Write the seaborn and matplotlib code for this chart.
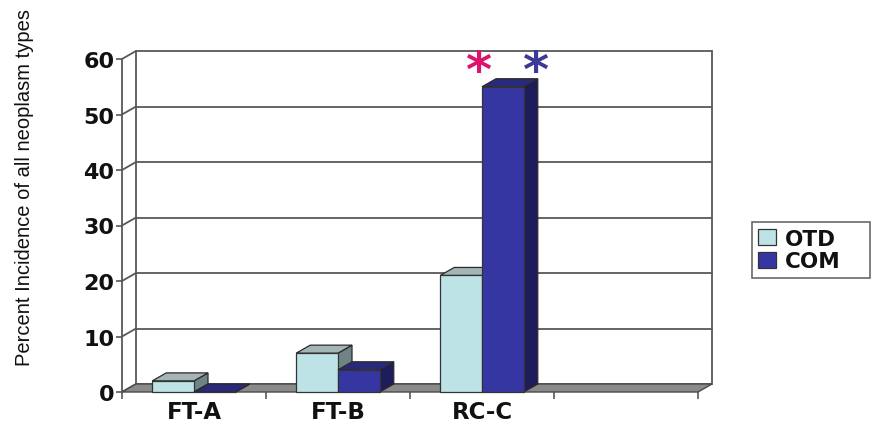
import matplotlib
matplotlib.use("Agg")
import matplotlib.pyplot as plt
from matplotlib.patches import Polygon, Patch
import pandas as pd
import seaborn as sns

# ---- data ----
categories = ["FT-A", "FT-B", "RC-C"]
groups = ["OTD", "COM"]
otd_values = [2, 7, 21]
com_values = [0, 4, 55]
y_ticks = [0, 10, 20, 30, 40, 50, 60]
y_label = "Percent Incidence of all neoplasm types"

front_colors = {"OTD": "#bde3e6", "COM": "#3636a2"}
top_colors = {"OTD": "#a3b5b5", "COM": "#2a2a7c"}
side_colors = {"OTD": "#6f8484", "COM": "#1d1d5c"}

df = pd.DataFrame({
    "category": categories * 2,
    "group": ["OTD"] * len(categories) + ["COM"] * len(categories),
    "value": otd_values + com_values,
})

sns.set_theme(style="white")
plt.rcParams["font.family"] = ["DejaVu Sans"]

W, H = 874, 431
fig = plt.figure(figsize=(W / 100, H / 100), dpi=100)

# front plane of the 3-D box, in pixels
x_left, x_right = 122, 698
y_zero, y_top = 393, 60
ax = fig.add_axes([x_left / W, 1 - y_zero / H,
                   (x_right - x_left) / W, (y_zero - y_top) / H])

sns.barplot(data=df, x="category", y="value", hue="group",
            order=categories, hue_order=groups, palette=front_colors,
            width=0.58, saturation=1, edgecolor="#333333", linewidth=0.9,
            legend=False, ax=ax)

xa, xb = -0.5, 3.5
ax.set_xlim(xa, xb)
ax.set_ylim(0, 60)

# depth of the box (14 px right, 8 px up) in data units
dx = 14 * (xb - xa) / (x_right - x_left)
dy = 8 * 60 / (y_zero - y_top)

grid_kw = dict(color="#585858", lw=1.3, clip_on=False, zorder=0.5)
# back wall: gridlines plus the slanted side-wall connectors
for v in y_ticks:
    ax.plot([xa + dx, xb + dx], [v + dy, v + dy], **grid_kw)
    ax.plot([xa, xa + dx], [v, v + dy], **grid_kw)
ax.plot([xa + dx, xa + dx], [dy, 60 + dy], **grid_kw)
ax.plot([xb + dx, xb + dx], [dy, 60 + dy], **grid_kw)

# floor slab
ax.add_patch(Polygon([(xa, 0), (xb, 0), (xb + dx, dy), (xa + dx, dy)],
                     closed=True, fc="#8a8a8a", ec="#4a4a4a", lw=1.0,
                     clip_on=False, zorder=1))

# extrude each bar into a box: top and right side faces
n = len(categories)
for i, patch in enumerate(ax.patches[:2 * n]):
    grp = groups[i // n]
    z = 3 + (i // n)
    x0 = patch.get_x()
    w = patch.get_width()
    h = patch.get_height()
    patch.set_zorder(z + 0.5)
    patch.set_clip_on(False)
    top = [(x0, h), (x0 + w, h), (x0 + w + dx, h + dy), (x0 + dx, h + dy)]
    side = [(x0 + w, 0), (x0 + w + dx, dy), (x0 + w + dx, h + dy), (x0 + w, h)]
    ax.add_patch(Polygon(side, closed=True, fc=side_colors[grp], ec="#2a2a2a",
                         lw=0.9, clip_on=False, zorder=z))
    ax.add_patch(Polygon(top, closed=True, fc=top_colors[grp], ec="#2a2a2a",
                         lw=0.9, clip_on=False, zorder=z + 0.2))

# significance marks above the tallest bar
ax.text(1.975, 57.6, "*", color="#e0136c", fontsize=36, fontweight="bold",
        ha="center", va="center", clip_on=False, zorder=6)
ax.text(2.37, 57.6, "*", color="#3b3b96", fontsize=36, fontweight="bold",
        ha="center", va="center", clip_on=False, zorder=6)

# axes styling
for s in ["top", "right", "bottom"]:
    ax.spines[s].set_visible(False)
ax.spines["left"].set_color("#585858")
ax.spines["left"].set_linewidth(1.3)
ax.set_facecolor("none")
ax.set_yticks(y_ticks)
ax.set_yticklabels([str(t) for t in y_ticks], fontsize=16, fontweight="bold",
                   color="#111111")
ax.set_xticks(range(n))
ax.set_xticklabels(categories, fontsize=16.5, fontweight="bold", color="#111111")
ax.set_xticks([xa + k for k in range(5)], minor=True)
ax.tick_params(axis="y", which="both", length=4, width=1.2, color="#585858",
               direction="out", pad=1.5, left=True)
ax.tick_params(axis="x", which="major", length=0, pad=6, bottom=True)
ax.tick_params(axis="x", which="minor", length=5, width=1.2, color="#585858",
               direction="out", bottom=True)
ax.set_xlabel("")
ax.set_ylabel("")

fig.text(25 / W, 1 - 187 / H, y_label, rotation=90, ha="center", va="center",
         fontsize=14.5, family=["Liberation Sans", "DejaVu Sans"],
         color="#111111")

handles = [Patch(fc=front_colors[g], ec="#333333", lw=0.9) for g in groups]
leg = fig.legend(handles, groups, loc="center left", mode="expand",
                 bbox_to_anchor=(752 / W, 1 - 251 / H, 118 / W, 0),
                 frameon=True, fancybox=False, edgecolor="#6a6a6a",
                 framealpha=1, prop={"size": 15.5, "weight": "bold"},
                 handlelength=0.8, handleheight=0.75, handletextpad=0.45,
                 labelspacing=0.12, borderpad=0.3, borderaxespad=0)
leg.get_frame().set_linewidth(1.2)
for t in leg.get_texts():
    t.set_color("#111111")

fig.savefig("out.png", dpi=100)
